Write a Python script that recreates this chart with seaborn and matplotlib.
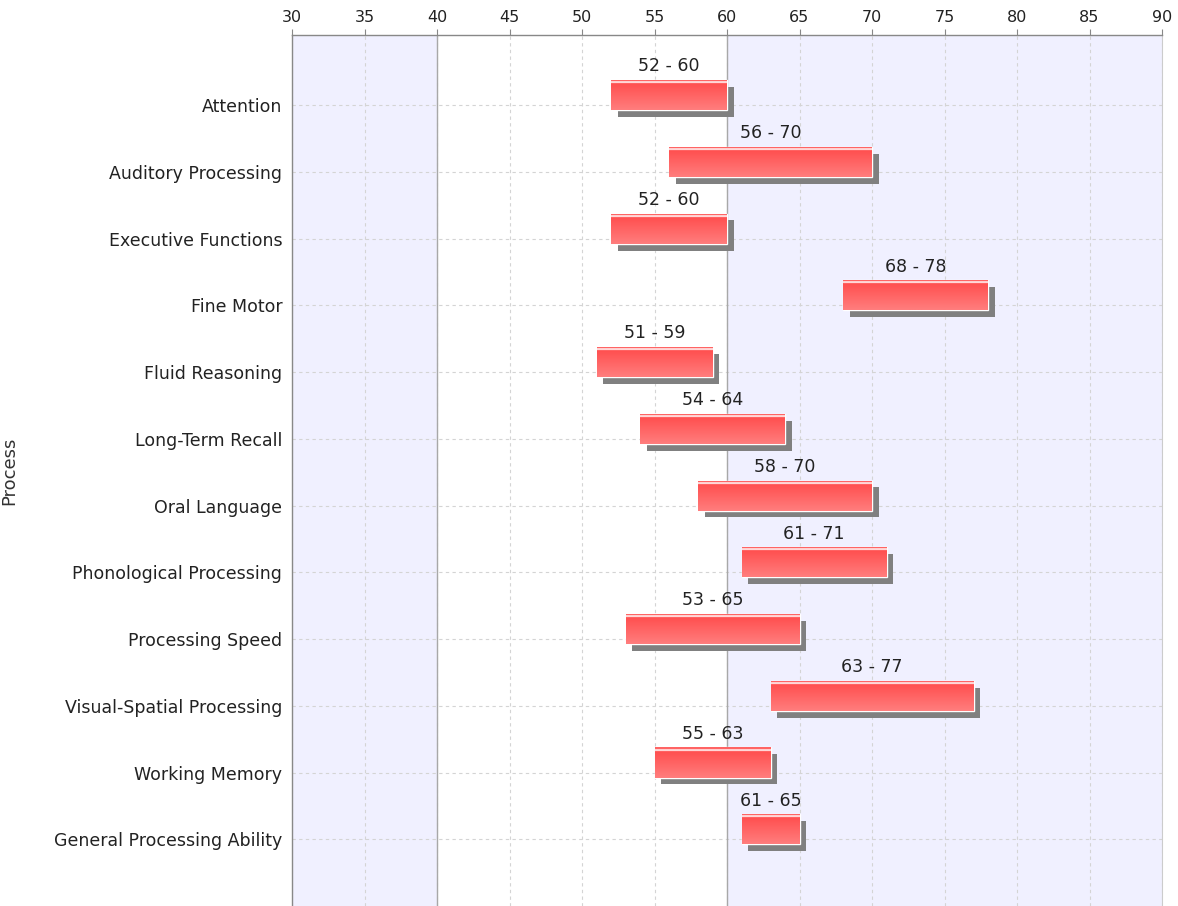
import numpy as np
import pandas as pd
import matplotlib
matplotlib.use('Agg')
import matplotlib.pyplot as plt
import matplotlib.patheffects as pe
import seaborn as sns

# --- datos ---
processes = ['Attention', 'Auditory Processing', 'Executive Functions', 'Fine Motor',
             'Fluid Reasoning', 'Long-Term Recall', 'Oral Language',
             'Phonological Processing', 'Processing Speed',
             'Visual-Spatial Processing', 'Working Memory', 'General Processing Ability']
low = [52, 56, 52, 68, 51, 54, 58, 61, 53, 63, 55, 61]
high = [60, 70, 60, 78, 59, 64, 70, 71, 65, 77, 63, 65]
x_ticks = list(range(30, 91, 5))

df = pd.DataFrame({'process': processes, 'low': low, 'high': high})
df['span'] = df['high'] - df['low']

sns.set_style('white')
plt.rcParams['font.family'] = ['DejaVu Sans']

W, H = 1178, 906
fig = plt.figure(figsize=(W / 100, H / 100), dpi=100)
ax = fig.add_axes([292 / W, 0, 870 / W, 871 / H])

ax.set_facecolor('#f0f0ff')

bar_h = 0.45
shift = -0.15
sns.barplot(data=df, y='process', x='span', left=df['low'].values, orient='h',
            order=processes, width=bar_h, color='#ff5555', errorbar=None,
            saturation=1, ax=ax, zorder=3)

# gradiente vertical de cada barra (linea superior, brillo, cuerpo)
rows = 30
grad = np.zeros((rows, 1, 3))
top = np.array([255, 100, 100]) / 255
shine = np.array([255, 215, 215]) / 255
c0 = np.array([255, 80, 80]) / 255
c1 = np.array([255, 125, 125]) / 255
for i in range(rows):
    if i < 2:
        grad[i, 0] = top
    elif i < 4:
        grad[i, 0] = shine
    else:
        t = (i - 4) / (rows - 5)
        grad[i, 0] = c0 * (1 - t) + c1 * t

for p in ax.containers[0]:
    p.set_y(p.get_y() + shift)
    p.set_path_effects([pe.SimplePatchShadow(offset=(5, -5), shadow_rgbFace='#808080',
                                             alpha=1.0), pe.Normal()])
    x0, y0 = p.get_x(), p.get_y()
    im = ax.imshow(grad, extent=[x0, x0 + p.get_width(), y0 + p.get_height(), y0],
                   aspect='auto', interpolation='bilinear', zorder=4)
    im.set_clip_path(p)

# banda blanca 40-60
ax.axvspan(40, 60, color='white', zorder=0, lw=0)

# etiquetas
for i, (lo, hi) in enumerate(zip(low, high)):
    ax.text((lo + hi) / 2, i + shift - bar_h / 2 - 0.07, f'{lo} - {hi}',
            ha='center', va='bottom', fontsize=12.5, color='#222222', zorder=5)

ax.axvline(40, color='#a8a8a8', lw=1, zorder=2)
ax.axvline(60, color='#a8a8a8', lw=1, zorder=2)

ax.set_xlim(30, 90)
ax.set_ylim(12.0, -1.05)
ax.set_xticks(x_ticks)
ax.xaxis.tick_top()
ax.set_xlabel('')
ax.set_ylabel('Process', fontsize=13, color='#333333')
ax.yaxis.set_label_coords((18 - 292) / 870, 0.5)

ax.set_axisbelow(True)
ax.grid(True, ls=(0, (3, 3)), color='#d4d4d4', lw=0.8)
ax.tick_params(axis='x', direction='out', length=4, color='#888888', labelsize=11.5,
               labelcolor='#222222', pad=3)
ax.tick_params(axis='y', direction='out', length=3, color='#888888', labelsize=12.5,
               labelcolor='#222222', pad=4)

for s in ['top', 'left']:
    ax.spines[s].set_color('#888888')
    ax.spines[s].set_linewidth(1)
ax.spines['right'].set_color('#cccccc')
ax.spines['bottom'].set_visible(False)

fig.savefig('out.png', dpi=100)
